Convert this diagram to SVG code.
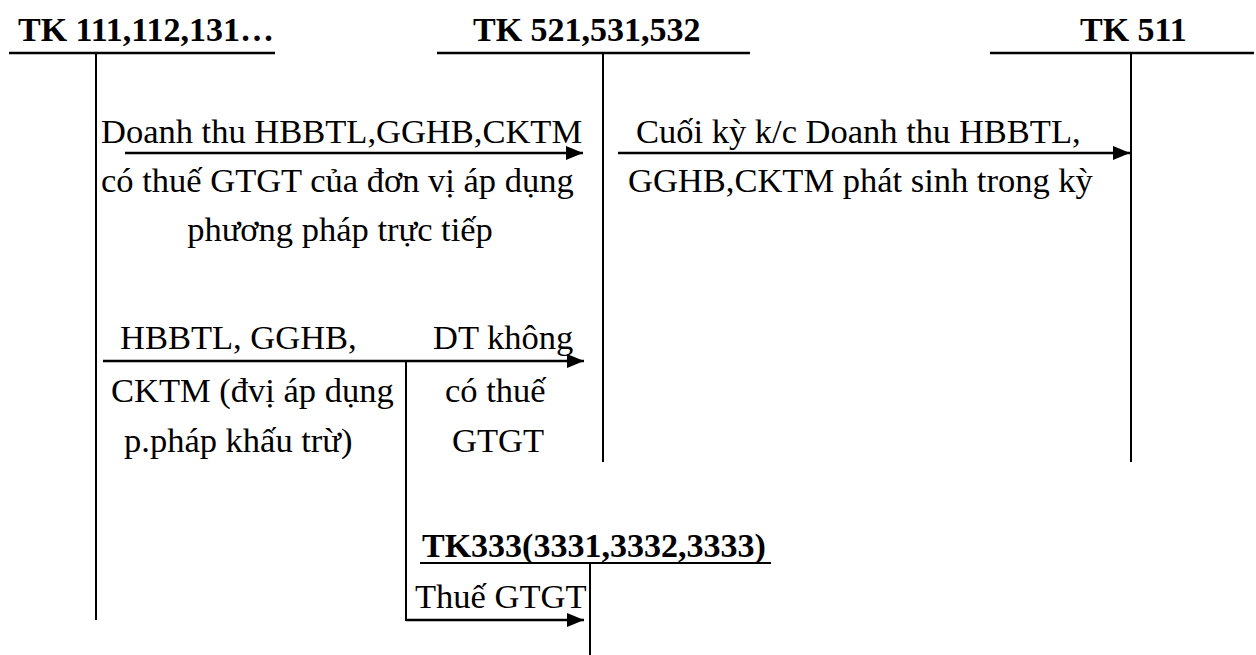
<svg xmlns="http://www.w3.org/2000/svg" width="1256" height="655" viewBox="0 0 1256 655" font-family="'Liberation Serif', 'Times New Roman', Times, 'DejaVu Serif', serif">
<style>
text{font-family:'Liberation Serif','Times New Roman',Times,'DejaVu Serif',serif;font-size:34.5px;fill:#000}
.h{font-weight:bold;font-size:34px}
.ln{stroke:#000;stroke-width:2;fill:none}
.ul{stroke:#000;stroke-width:2.5;fill:none}
.ar{stroke:#000;stroke-width:2.5;fill:none;marker-end:url(#ah)}
</style>
<defs>
<marker id="ah" markerWidth="17" markerHeight="14" refX="17" refY="7" orient="auto" markerUnits="userSpaceOnUse">
<path d="M0,0 L17,7 L0,14 z" fill="#000"/>
</marker>
</defs>
<rect width="1256" height="655" fill="#fff"/>
<g id="tk111">
<text class="h" x="18" y="41">TK 111,112,131…</text>
<line class="ul" x1="9" y1="53" x2="275" y2="53"/>
<line class="ln" x1="96" y1="53" x2="96" y2="620"/>
</g>
<g id="tk521">
<text class="h" x="473" y="41">TK 521,531,532</text>
<line class="ul" x1="437" y1="53" x2="750" y2="53"/>
<line class="ln" x1="603" y1="53" x2="603" y2="462"/>
</g>
<g id="tk511">
<text class="h" x="1080" y="41">TK 511</text>
<line class="ul" x1="990" y1="53" x2="1254" y2="53"/>
<line class="ln" x1="1131" y1="53" x2="1131" y2="462"/>
</g>
<g id="tk333">
<text class="h" x="422" y="557">TK333(3331,3332,3333)</text>
<line class="ln" x1="420" y1="563" x2="771" y2="563"/>
<line class="ln" x1="590" y1="563" x2="590" y2="655"/>
</g>
<g id="connectors">
<line class="ar" x1="125" y1="153" x2="583" y2="153"/>
<line class="ar" x1="618" y1="153" x2="1130" y2="153"/>
<line class="ar" x1="103" y1="361" x2="584" y2="361"/>
<line class="ln" x1="406" y1="361" x2="406" y2="621"/>
<polyline class="ar" points="406,620 584,620"/>
</g>
<g id="labels">
<text x="101" y="143">Doanh thu HBBTL,GGHB,CKTM</text>
<text x="101" y="192">có thuế GTGT của đơn vị áp dụng</text>
<text x="340" y="241" text-anchor="middle">phương pháp trực tiếp</text>
<text x="636" y="143">Cuối kỳ k/c Doanh thu HBBTL,</text>
<text x="628" y="192">GGHB,CKTM phát sinh trong kỳ</text>
<text x="120" y="349">HBBTL, GGHB,</text>
<text x="433" y="349">DT không</text>
<text x="111" y="402">CKTM (đvị áp dụng</text>
<text x="445" y="402">có thuế</text>
<text x="124" y="452">p.pháp khấu trừ)</text>
<text x="452" y="452">GTGT</text>
<text x="415" y="608">Thuế GTGT</text>
</g>
</svg>
